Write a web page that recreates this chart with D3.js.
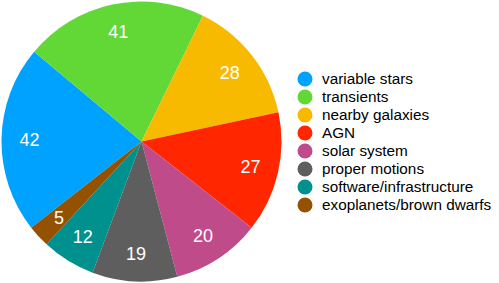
<!DOCTYPE html>
<meta charset="utf-8">
<script src="https://d3js.org/d3.v7.min.js"></script>
<style>
  body { margin: 0; background: #fff; }
  text { font-family: "Liberation Sans", Arial, Helvetica, sans-serif; }
</style>
<body>
<script>
    // data
    var categories = ["variable stars", "transients", "nearby galaxies", "AGN",
                      "solar system", "proper motions", "software/infrastructure",
                      "exoplanets/brown dwarfs"];
    var values = [42, 41, 28, 27, 20, 19, 12, 5];
    var colors = ["#00A2FF", "#61D836", "#F8BA00", "#FF2600",
                  "#BF4B8A", "#5E5E5E", "#00918E", "#945200"];

    var width = 499, height = 283;
    var cx = 141.5, cy = 141.5, radius = 140;

    var svg = d3.select("body").append("svg")
            .attr("width", width)
            .attr("height", height);

    var color = d3.scaleOrdinal().domain(categories).range(colors);

    // blue slice starts lower-left, goes clockwise
    var start = -128 * Math.PI / 180;
    var pie = d3.pie()
            .sort(null)
            .value(function(d, i) { return values[i]; })
            .startAngle(start)
            .endAngle(start + 2 * Math.PI);

    var arcs = pie(categories);

    var arc = d3.arc().innerRadius(0).outerRadius(radius);
    var labelArc = d3.arc().innerRadius(radius * 0.8).outerRadius(radius * 0.8);

    var g = svg.append("g")
            .attr("transform", "translate(" + cx + "," + cy + ")");

    g.selectAll("path")
            .data(arcs)
            .enter().append("path")
            .attr("d", arc)
            .attr("fill", function(d) { return color(d.data); });

    g.selectAll("text")
            .data(arcs)
            .enter().append("text")
            .attr("transform", function(d) { return "translate(" + labelArc.centroid(d) + ")"; })
            .attr("text-anchor", "middle")
            .attr("dy", "0.36em")
            .attr("fill", "#fff")
            .style("font-size", "18px")
            .text(function(d, i) { return values[i]; });

    // legend
    var legend = svg.append("g")
            .attr("transform", "translate(305,79)");

    var item = legend.selectAll("g")
            .data(categories)
            .enter().append("g")
            .attr("transform", function(d, i) { return "translate(0," + i * 18 + ")"; });

    item.append("circle")
            .attr("r", 7.5)
            .attr("fill", function(d) { return color(d); });

    item.append("text")
            .attr("x", 17)
            .attr("dy", "0.35em")
            .attr("fill", "#000")
            .style("font-size", "15.3px")
            .text(function(d) { return d; });
</script>
</body>
